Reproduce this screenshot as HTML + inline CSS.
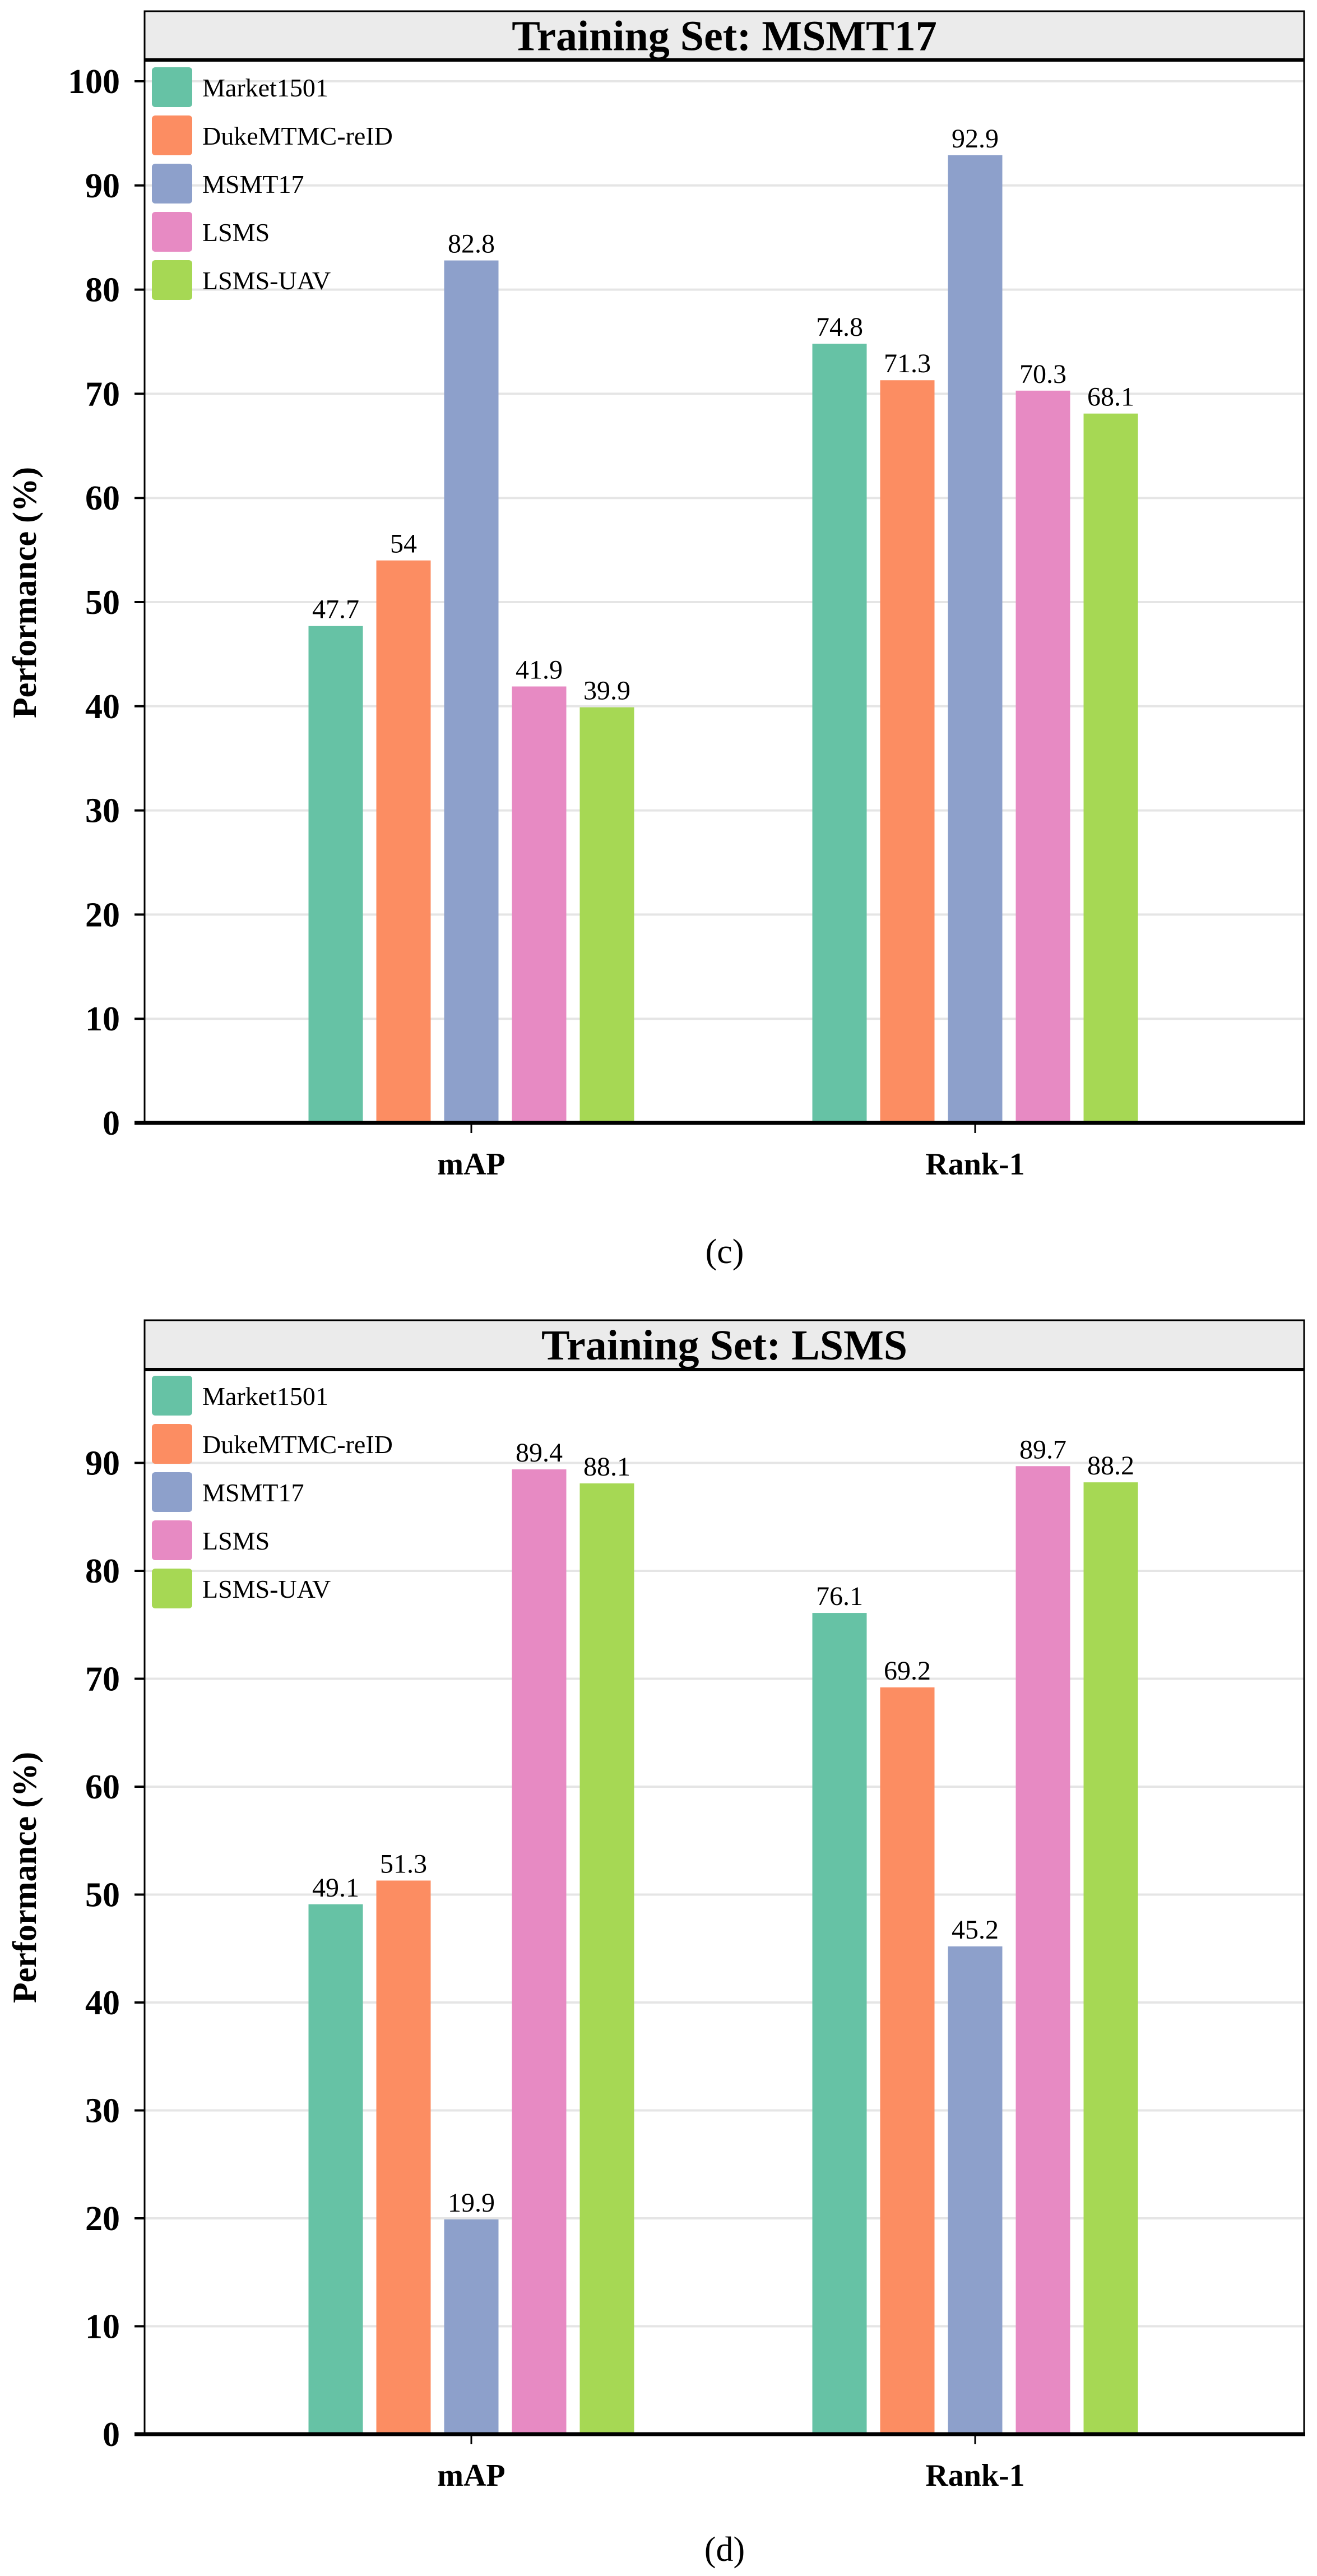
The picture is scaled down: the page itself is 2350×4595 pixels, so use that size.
<!DOCTYPE html>
<html><head><meta charset="utf-8"><style>
html,body{margin:0;padding:0;background:#fff;}
svg{display:block;font-family:"Liberation Serif",serif;}
svg text{font-family:"Liberation Serif",serif;}
</style></head><body>
<svg id="fig" width="2350" height="4595" viewBox="0 0 2350 4595" xmlns="http://www.w3.org/2000/svg"></svg>
<script>
const categories = ["mAP", "Rank-1"];
const seriesNames = ["Market1501", "DukeMTMC-reID", "MSMT17", "LSMS", "LSMS-UAV"];
const colors = ["#66c2a5", "#fc8d62", "#8da0cb", "#e78ac3", "#a6d854"];
const valuesC_mAP = [47.7, 54, 82.8, 41.9, 39.9];
const valuesC_rank1 = [74.8, 71.3, 92.9, 70.3, 68.1];
const valuesD_mAP = [49.1, 51.3, 19.9, 89.4, 88.1];
const valuesD_rank1 = [76.1, 69.2, 45.2, 89.7, 88.2];
const ticksC = [0, 10, 20, 30, 40, 50, 60, 70, 80, 90, 100];
const ticksD = [0, 10, 20, 30, 40, 50, 60, 70, 80, 90];

const NS = "http://www.w3.org/2000/svg";
const svg = document.getElementById("fig");
function mk(tag, attrs, parent) {
  const e = document.createElementNS(NS, tag);
  for (const k in attrs) e.setAttribute(k, attrs[k]);
  if (tag === "text") e.setAttribute("font-family", "Liberation Serif, serif");
  (parent || svg).appendChild(e);
  return e;
}

function drawChart(cfg) {
  const g = mk("g", {});
  
  
  const L = 258, R = 2327;
  const y = v => cfg.zero - v * cfg.per10 / 10;
  const xc = i => [841, 1740][i];
  const strip = mk("rect", {x: L, y: cfg.stripTop, width: R - L, height: cfg.panelTop - cfg.stripTop, fill: "#ebebeb", stroke: "#000", "stroke-width": 3}, g);
  
  
  const t = mk("text", {x: (L + R) / 2, y: (cfg.stripTop + cfg.panelTop) / 2 + 26, "text-anchor": "middle", "font-size": 76, "font-weight": "bold"}, g);
  t.textContent = cfg.title;
  
  
  cfg.ticks.forEach(v => {
    const gl = mk("line", {x1: L, x2: R, y1: y(v), y2: y(v), stroke: "#e5e5e5", "stroke-width": 4}, g);
    
    
    mk("line", {x1: 240, x2: L, y1: y(v), y2: y(v), stroke: "#000", "stroke-width": 4}, g);
    const tl = mk("text", {x: 214, y: y(v) + 21, "text-anchor": "end", "font-size": 62, "font-weight": "bold"}, g);
    tl.textContent = v;
    
    
  });
  cfg.series.forEach((vals, ci) => {
    vals.forEach((v, si) => {
      const cx = xc(ci) + (si - 2) * 121;
      const b = mk("rect", {x: cx - 48.5, y: y(v), width: 97, height: cfg.zero - y(v), fill: colors[si]}, g);
      
      
      const vl = mk("text", {x: cx, y: y(v) - 14, "text-anchor": "middle", "font-size": 48}, g);
      vl.textContent = v;
      
      
    });
  });
  mk("line", {x1: L, x2: L, y1: cfg.panelTop, y2: cfg.zero, stroke: "#000", "stroke-width": 3}, g);
  mk("line", {x1: R, x2: R, y1: cfg.panelTop, y2: cfg.zero, stroke: "#000", "stroke-width": 3}, g);
  mk("line", {x1: L, x2: R, y1: cfg.panelTop, y2: cfg.panelTop, stroke: "#000", "stroke-width": 6}, g);
  mk("line", {x1: 240, x2: R + 2, y1: cfg.zero, y2: cfg.zero, stroke: "#000", "stroke-width": 7}, g);
  categories.forEach((c, ci) => {
    mk("line", {x1: xc(ci), x2: xc(ci), y1: cfg.zero, y2: cfg.zero + 18, stroke: "#000", "stroke-width": 3}, g);
    const xl = mk("text", {x: xc(ci), y: cfg.zero + 92, "text-anchor": "middle", "font-size": 56, "font-weight": "bold"}, g);
    xl.textContent = c;
    
    
  });
  seriesNames.forEach((n, si) => {
    const ly = cfg.legendTop + si * 86;
    const sw = mk("rect", {x: 271, y: ly, width: 72, height: 71, rx: 6, fill: colors[si]}, g);
    
    
    const lt = mk("text", {x: 361, y: ly + 52, "font-size": 46}, g);
    lt.textContent = n;
    
    
  });
  const yt = mk("text", {x: 0, y: 0, "text-anchor": "middle", "font-size": 60, "font-weight": "bold", transform: "translate(64," + cfg.yTitleY + ") rotate(-90)"}, g);
  yt.textContent = "Performance (%)";
  
  
  const cap = mk("text", {x: 1293, y: cfg.capY + 20, "text-anchor": "middle", "font-size": 62}, g);
  cap.textContent = cfg.caption;
  
  
}

drawChart({name: "chart-msmt17", title: "Training Set: MSMT17", stripTop: 20, panelTop: 107, zero: 2003, per10: 185.8,
  ticks: ticksC, series: [valuesC_mAP, valuesC_rank1], legendTop: 120, yTitleY: 1057, caption: "(c)", capY: 2233});
drawChart({name: "chart-lsms", title: "Training Set: LSMS", stripTop: 2355, panelTop: 2443, zero: 4342, per10: 192.5,
  ticks: ticksD, series: [valuesD_mAP, valuesD_rank1], legendTop: 2454, yTitleY: 3349, caption: "(d)", capY: 4548});
</script>
</body></html>
